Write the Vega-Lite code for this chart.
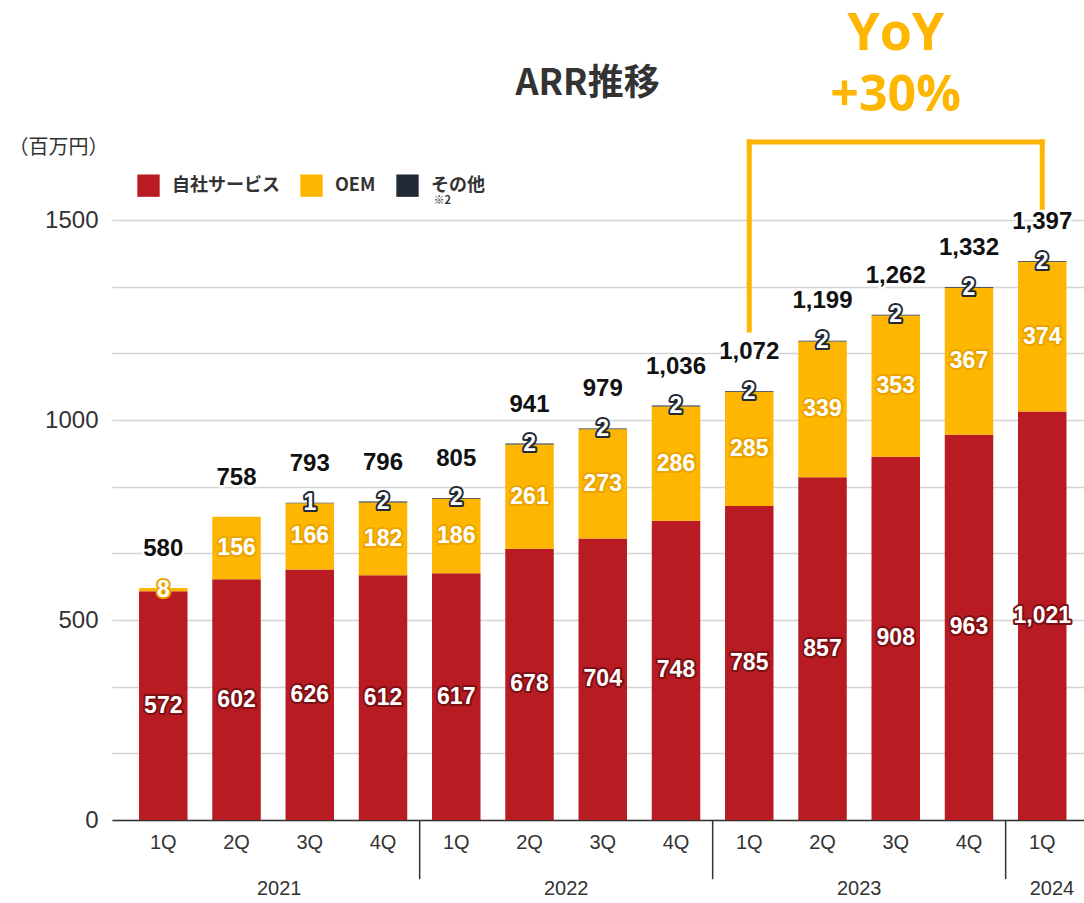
{
  "$schema": "https://vega.github.io/schema/vega-lite/v6.json",
  "width": 972,
  "height": 820,
  "autosize": {"type": "none"},
  "padding": {"left": 112, "top": 0, "right": 0, "bottom": 83},
  "background": "white",
  "config": {"view": {"stroke": null}},
  "datasets": {
    "segs": [
      {"key": "2021-1Q", "seg": "自社サービス", "so": 1, "value": 572},
      {"key": "2021-1Q", "seg": "OEM", "so": 2, "value": 8},
      {"key": "2021-2Q", "seg": "自社サービス", "so": 1, "value": 602},
      {"key": "2021-2Q", "seg": "OEM", "so": 2, "value": 156},
      {"key": "2021-3Q", "seg": "自社サービス", "so": 1, "value": 626},
      {"key": "2021-3Q", "seg": "OEM", "so": 2, "value": 166},
      {"key": "2021-3Q", "seg": "その他", "so": 3, "value": 1},
      {"key": "2021-4Q", "seg": "自社サービス", "so": 1, "value": 612},
      {"key": "2021-4Q", "seg": "OEM", "so": 2, "value": 182},
      {"key": "2021-4Q", "seg": "その他", "so": 3, "value": 2},
      {"key": "2022-1Q", "seg": "自社サービス", "so": 1, "value": 617},
      {"key": "2022-1Q", "seg": "OEM", "so": 2, "value": 186},
      {"key": "2022-1Q", "seg": "その他", "so": 3, "value": 2},
      {"key": "2022-2Q", "seg": "自社サービス", "so": 1, "value": 678},
      {"key": "2022-2Q", "seg": "OEM", "so": 2, "value": 261},
      {"key": "2022-2Q", "seg": "その他", "so": 3, "value": 2},
      {"key": "2022-3Q", "seg": "自社サービス", "so": 1, "value": 704},
      {"key": "2022-3Q", "seg": "OEM", "so": 2, "value": 273},
      {"key": "2022-3Q", "seg": "その他", "so": 3, "value": 2},
      {"key": "2022-4Q", "seg": "自社サービス", "so": 1, "value": 748},
      {"key": "2022-4Q", "seg": "OEM", "so": 2, "value": 286},
      {"key": "2022-4Q", "seg": "その他", "so": 3, "value": 2},
      {"key": "2023-1Q", "seg": "自社サービス", "so": 1, "value": 785},
      {"key": "2023-1Q", "seg": "OEM", "so": 2, "value": 285},
      {"key": "2023-1Q", "seg": "その他", "so": 3, "value": 2},
      {"key": "2023-2Q", "seg": "自社サービス", "so": 1, "value": 857},
      {"key": "2023-2Q", "seg": "OEM", "so": 2, "value": 339},
      {"key": "2023-2Q", "seg": "その他", "so": 3, "value": 2},
      {"key": "2023-3Q", "seg": "自社サービス", "so": 1, "value": 908},
      {"key": "2023-3Q", "seg": "OEM", "so": 2, "value": 353},
      {"key": "2023-3Q", "seg": "その他", "so": 3, "value": 2},
      {"key": "2023-4Q", "seg": "自社サービス", "so": 1, "value": 963},
      {"key": "2023-4Q", "seg": "OEM", "so": 2, "value": 367},
      {"key": "2023-4Q", "seg": "その他", "so": 3, "value": 2},
      {"key": "2024-1Q", "seg": "自社サービス", "so": 1, "value": 1021},
      {"key": "2024-1Q", "seg": "OEM", "so": 2, "value": 374},
      {"key": "2024-1Q", "seg": "その他", "so": 3, "value": 2}
    ],
    "totals": [
      {"key": "2021-1Q", "total": 580},
      {"key": "2021-2Q", "total": 758},
      {"key": "2021-3Q", "total": 793},
      {"key": "2021-4Q", "total": 796},
      {"key": "2022-1Q", "total": 805},
      {"key": "2022-2Q", "total": 941},
      {"key": "2022-3Q", "total": 979},
      {"key": "2022-4Q", "total": 1036},
      {"key": "2023-1Q", "total": 1072},
      {"key": "2023-2Q", "total": 1199},
      {"key": "2023-3Q", "total": 1262},
      {"key": "2023-4Q", "total": 1332},
      {"key": "2024-1Q", "total": 1397}
    ],
    "seps": [{"key": "2022-1Q"}, {"key": "2023-1Q"}, {"key": "2024-1Q"}],
    "years1": [{"key": "2021-3Q", "year": "2021"}],
    "years": [
      {"key": "2022-3Q", "year": "2022"},
      {"key": "2023-3Q", "year": "2023"}
    ],
    "years2": [{"key": "2024-1Q", "year": "2024"}],
    "one": [{}]
  },
  "layer": [
    {
      "data": {"name": "segs"},
      "mark": {"type": "bar"},
      "encoding": {
        "x": {
          "field": "key", "type": "nominal",
          "scale": {
            "domain": ["2021-1Q","2021-2Q","2021-3Q","2021-4Q","2022-1Q","2022-2Q","2022-3Q","2022-4Q","2023-1Q","2023-2Q","2023-3Q","2023-4Q","2024-1Q"],
            "paddingInner": 0.338, "paddingOuter": 0.304, "align": 0.607
          },
          "axis": {
            "title": null, "ticks": false, "domainColor": "#333", "domainWidth": 1.5,
            "labelExpr": "split(datum.label, '-')[1]", "labelAngle": 0,
            "labelFont": "Liberation Sans", "labelFontSize": 20, "labelColor": "#333", "labelPadding": 12
          }
        },
        "y": {
          "field": "value", "type": "quantitative", "stack": "zero",
          "scale": {"domain": [0, 2050], "nice": false},
          "axis": {
            "title": "（百万円）",
            "values": [0, 166.6667, 333.3333, 500, 666.6667, 833.3333, 1000, 1166.6667, 1333.3333, 1500],
            "grid": true, "gridColor": "#d4d4d4", "gridWidth": 1.5,
            "domain": false, "ticks": false,
            "labelExpr": "datum.value % 500 == 0 ? format(datum.value, 'd') : ''",
            "labelFont": "Liberation Sans", "labelFontSize": 24, "labelColor": "#333", "labelPadding": 14,
            "titleAngle": 0, "titleX": -104, "titleY": 147, "titleAlign": "left", "titleBaseline": "middle",
            "titleFont": "Noto Sans CJK JP", "titleFontSize": 20, "titleFontWeight": "normal", "titleColor": "#333"
          }
        },
        "color": {
          "field": "seg", "type": "nominal",
          "scale": {"domain": ["自社サービス", "OEM", "その他"], "range": ["#b81c22", "#ffb600", "#222b35"]},
          "legend": {
            "orient": "none", "legendX": 25, "legendY": 174, "direction": "horizontal", "title": null,
            "symbolType": "square", "symbolSize": 500, "symbolStrokeWidth": 0,
            "labelFont": "Noto Sans CJK JP", "labelFontSize": 18, "labelFontWeight": "bold", "labelColor": "#333",
            "labelOffset": 12, "columnPadding": 20, "padding": 0
          }
        },
        "order": {"field": "so", "type": "quantitative"}
      }
    },
    {
      "data": {"name": "segs"},
      "transform": [
        {"stack": "value", "groupby": ["key"], "sort": [{"field": "so", "order": "ascending"}], "as": ["y0", "y1"]},
        {"calculate": "(datum.y0 + datum.y1) / 2", "as": "ymid"}
      ],
      "encoding": {
        "x": {"field": "key", "type": "nominal"},
        "y": {"field": "ymid", "type": "quantitative", "stack": null},
        "text": {"field": "value", "type": "quantitative", "format": ","}
      },
      "layer": [
        {
          "mark": {"type": "text", "font": "Liberation Sans", "fontWeight": "bold", "fontSize": 23, "baseline": "middle", "strokeWidth": 4, "strokeJoin": "round"},
          "encoding": {
            "fill": {"field": "seg", "type": "nominal", "scale": {"domain": ["自社サービス", "OEM", "その他"], "range": ["#7d1015", "#eaa400", "#222b35"]}, "legend": null},
            "stroke": {"field": "seg", "type": "nominal", "scale": {"domain": ["自社サービス", "OEM", "その他"], "range": ["#7d1015", "#eaa400", "#222b35"]}, "legend": null}
          }
        },
        {
          "mark": {"type": "text", "font": "Liberation Sans", "fontWeight": "bold", "fontSize": 23, "baseline": "middle", "fill": "white"}
        }
      ]
    },
    {
      "data": {"name": "totals"},
      "encoding": {
        "x": {"field": "key", "type": "nominal"},
        "y": {"field": "total", "type": "quantitative"},
        "text": {"field": "total", "type": "quantitative", "format": ","}
      },
      "layer": [
        {"mark": {"type": "text", "font": "Liberation Sans", "fontWeight": "bold", "fontSize": 24, "baseline": "middle", "dy": -39, "fill": "white", "stroke": "white", "strokeWidth": 5, "strokeJoin": "round"}},
        {"mark": {"type": "text", "font": "Liberation Sans", "fontWeight": "bold", "fontSize": 24, "baseline": "middle", "dy": -39, "fill": "#111"}}
      ]
    },
    {
      "data": {"name": "seps"},
      "mark": {"type": "rule", "color": "#333", "strokeWidth": 1.5},
      "encoding": {
        "x": {"field": "key", "type": "nominal", "bandPosition": -0.255},
        "y": {"datum": -2, "type": "quantitative"},
        "y2": {"datum": -148}
      }
    },
    {
      "data": {"name": "years1"},
      "mark": {"type": "text", "font": "Liberation Sans", "fontSize": 20, "color": "#333", "baseline": "middle"},
      "encoding": {
        "x": {"field": "key", "type": "nominal", "bandPosition": -0.13},
        "y": {"datum": -172, "type": "quantitative"},
        "text": {"field": "year"}
      }
    },
    {
      "data": {"name": "years"},
      "mark": {"type": "text", "font": "Liberation Sans", "fontSize": 20, "color": "#333", "baseline": "middle"},
      "encoding": {
        "x": {"field": "key", "type": "nominal", "bandPosition": -0.255},
        "y": {"datum": -172, "type": "quantitative"},
        "text": {"field": "year"}
      }
    },
    {
      "data": {"name": "years2"},
      "mark": {"type": "text", "font": "Liberation Sans", "fontSize": 20, "color": "#333", "baseline": "middle"},
      "encoding": {
        "x": {"field": "key", "type": "nominal", "bandPosition": 0.7},
        "y": {"datum": -172, "type": "quantitative"},
        "text": {"field": "year"}
      }
    },
    {
      "data": {"name": "one"},
      "mark": {"type": "text", "text": "※2", "font": "Noto Sans CJK JP", "fontWeight": "bold", "fontSize": 11, "color": "#333", "baseline": "middle", "align": "left"},
      "encoding": {
        "x": {"datum": "2022-1Q", "type": "nominal", "bandPosition": 0.03},
        "y": {"datum": 1547, "type": "quantitative"}
      }
    },
    {
      "data": {"name": "one"},
      "mark": {"type": "rule", "color": "#ffb600", "strokeWidth": 5, "strokeCap": "square"},
      "encoding": {
        "x": {"datum": "2023-1Q", "type": "nominal"},
        "y": {"datum": 1225, "type": "quantitative"},
        "y2": {"datum": 1695}
      }
    },
    {
      "data": {"name": "one"},
      "mark": {"type": "rule", "color": "#ffb600", "strokeWidth": 5, "strokeCap": "square"},
      "encoding": {
        "x": {"datum": "2023-1Q", "type": "nominal"},
        "x2": {"datum": "2024-1Q"},
        "y": {"datum": 1695, "type": "quantitative"}
      }
    },
    {
      "data": {"name": "one"},
      "mark": {"type": "rule", "color": "#ffb600", "strokeWidth": 5, "strokeCap": "square"},
      "encoding": {
        "x": {"datum": "2024-1Q", "type": "nominal"},
        "y": {"datum": 1695, "type": "quantitative"},
        "y2": {"datum": 1532}
      }
    },
    {
      "data": {"name": "one"},
      "mark": {"type": "text", "text": "YoY", "font": "Open Sans", "fontWeight": "bold", "fontSize": 52, "color": "#ffb600", "baseline": "alphabetic", "align": "center"},
      "encoding": {
        "x": {"datum": "2023-3Q", "type": "nominal"},
        "y": {"datum": 1925, "type": "quantitative"}
      }
    },
    {
      "data": {"name": "one"},
      "mark": {"type": "text", "text": "+30%", "font": "Open Sans", "fontWeight": "bold", "fontSize": 50, "color": "#ffb600", "baseline": "alphabetic", "align": "center"},
      "encoding": {
        "x": {"datum": "2023-3Q", "type": "nominal"},
        "y": {"datum": 1772, "type": "quantitative"}
      }
    },
    {
      "data": {"name": "one"},
      "mark": {"type": "text", "text": "ARR推移", "font": "Noto Sans CJK JP", "fontWeight": "bold", "fontSize": 36, "color": "#333", "baseline": "alphabetic", "align": "center"},
      "encoding": {
        "x": {"datum": "2022-3Q", "type": "nominal", "bandPosition": 0.186},
        "y": {"datum": 1812, "type": "quantitative"}
      }
    }
  ]
}
